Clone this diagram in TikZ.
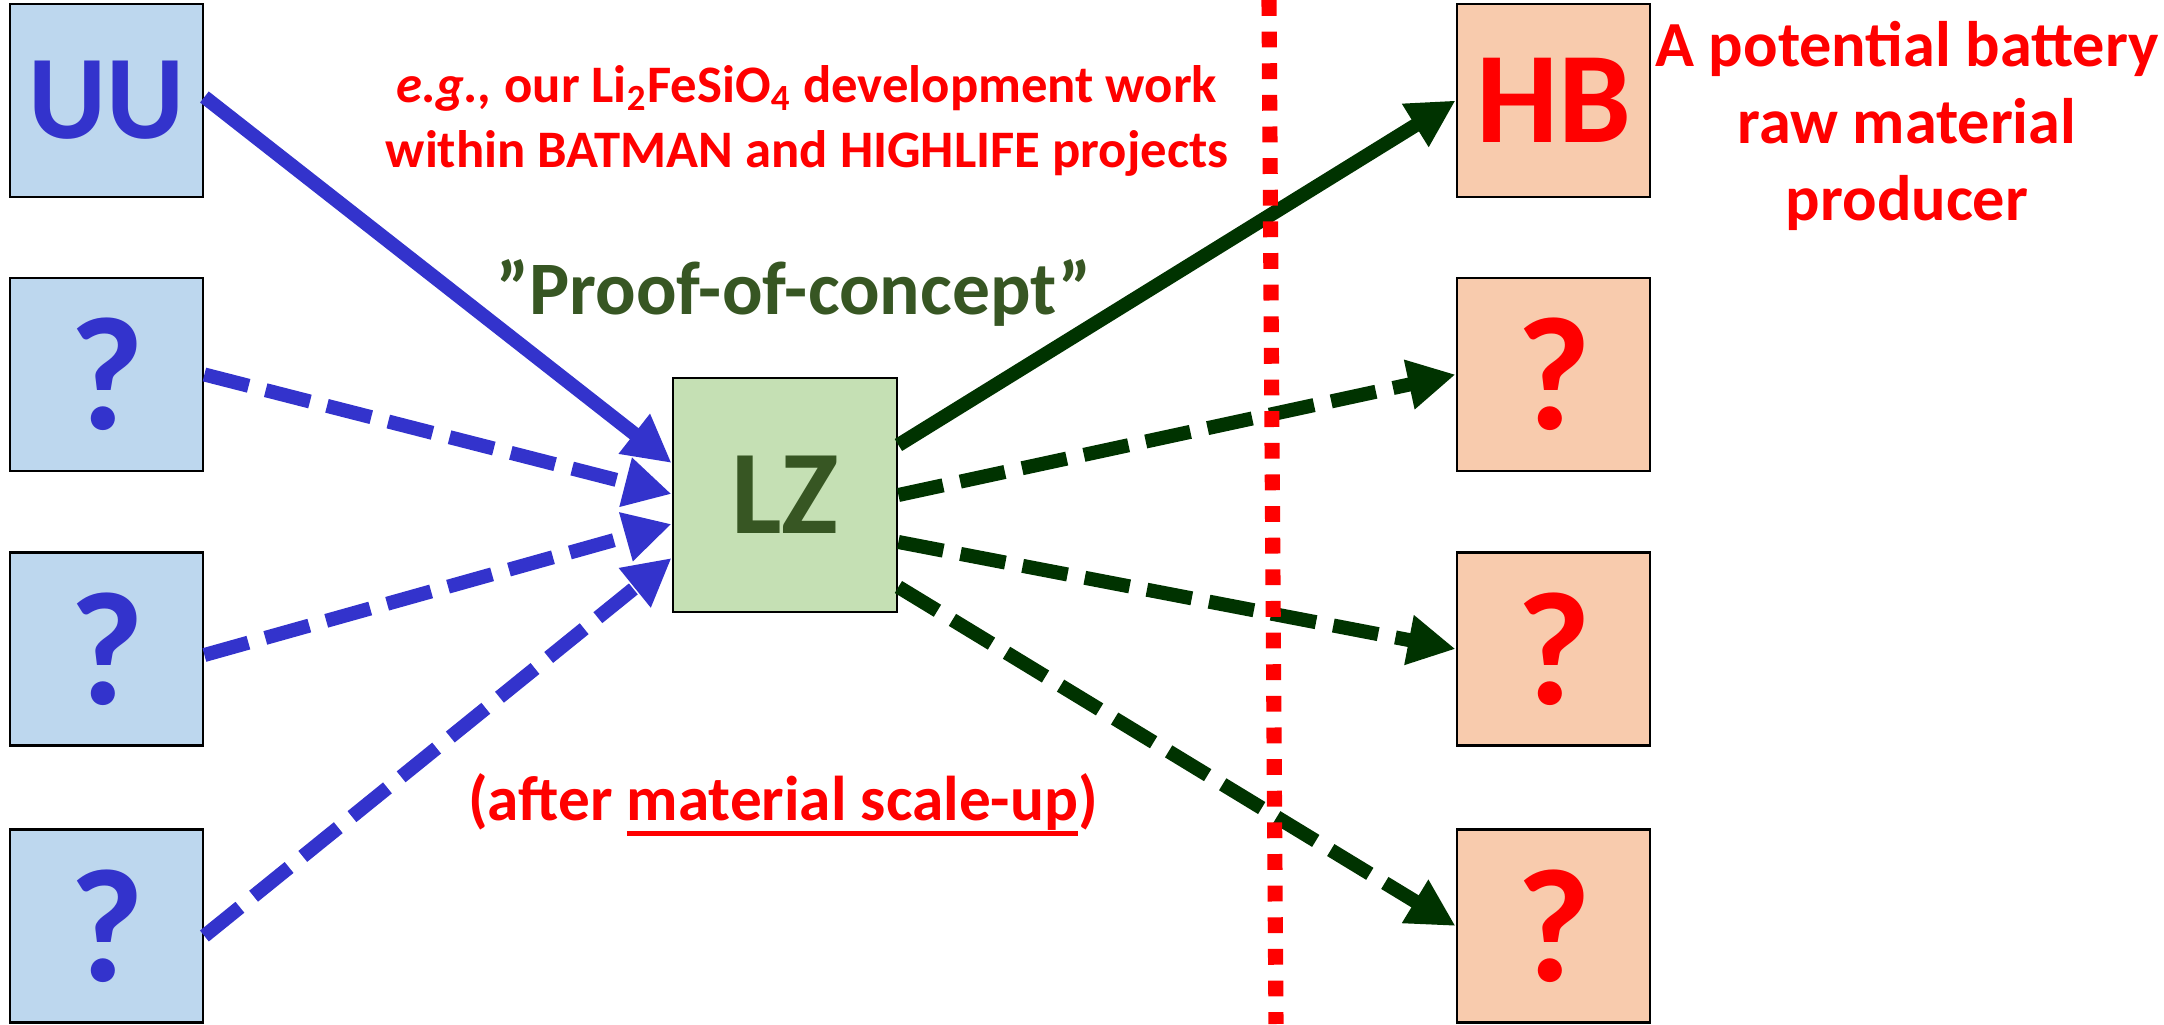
\documentclass[tikz,border=0pt]{standalone}
\usepackage{fontspec}
\setmainfont{Carlito}
\usetikzlibrary{
  positioning,
  arrows.meta
}
\definecolor{srcblue}{HTML}{BDD7EE}
\definecolor{lzgreen}{HTML}{C5E0B4}
\definecolor{dstorange}{HTML}{F8CBAD}
\definecolor{linkblue}{HTML}{3333CC}
\definecolor{linkgreen}{HTML}{003300}
\definecolor{olive}{HTML}{375623}
\definecolor{alert}{HTML}{FF0000}
\newcommand{\thickul}[1]{\setbox0=\hbox{#1}\rlap{\rule[-4.6pt]{\wd0}{1.4pt}}\box0}

\begin{document}
\begin{tikzpicture}[
  box/.style={draw, line width=0.8pt, minimum width=1.93cm, minimum height=1.93cm,
              inner sep=0pt},
  src/.style={box, fill=srcblue, text=linkblue},
  dst/.style={box, fill=dstorange, text=alert},
  big/.style={font=\bfseries\fontsize{34}{34}\selectfont},
  qmark/.style={font=\bfseries\fontsize{46}{46}\selectfont},
  barr/.style={-{Triangle[length=13.5pt, width=13.5pt]}, line width=4pt, linkblue},
  garr/.style={-{Triangle[length=13.5pt, width=13.5pt]}, line width=4pt, linkgreen},
  dashy/.style={dash pattern=on 13pt off 5pt},
  note/.style={align=center, inner sep=0pt, text=alert}
]
  \useasboundingbox (0,0) rectangle (21.64,10.24);

  \node[src, big] (uu) at (1.065, 9.235) {UU};
  \node[src, qmark] (s2) at (1.065, 6.495) {?};
  \node[src, qmark] (s3) at (1.065, 3.75) {?};
  \node[src, qmark] (s4) at (1.065, 0.98) {?};

  \node[box, big, fill=lzgreen, text=olive, minimum width=2.24cm, minimum height=2.34cm]
    (lz) at (7.85, 5.29) {LZ};

  \node[dst, font=\bfseries\fontsize{37}{37}\selectfont] (hb) at (15.535, 9.235) {HB};
  \node[dst, qmark] (d2) at (15.535, 6.495) {?};
  \node[dst, qmark] (d3) at (15.535, 3.75) {?};
  \node[dst, qmark] (d4) at (15.535, 0.98) {?};

  \node[note, font=\bfseries\fontsize{15}{18.5}\selectfont] (eg) at (8.07, 9.03) {
    \textit{e.g.,} our Li\textsubscript{2}FeSiO\textsubscript{4} development work\\
    within BATMAN and HIGHLIFE projects
  };
  \node[anchor=base, inner sep=0pt, text=olive, font=\bfseries\fontsize{21.5}{21.5}\selectfont]
    (poc) at (7.94, 7.09) {”Proof-of-concept”};
  \node[anchor=base, inner sep=0pt, text=alert, font=\bfseries\fontsize{18}{18}\selectfont]
    (scale) at (7.83, 2.04) {(after \thickul{material scale-up})};
  \node[note, font=\bfseries\fontsize{18.3}{21.8}\selectfont] (prod) at (19.07, 8.98) {
    A potential battery\\ raw material\\ producer
  };

  \draw[barr] ([yshift=0.035cm]uu.east) -- ([yshift=0.32cm]lz.west);
  \draw[barr, dashy] (s2.east) -- ([yshift=0.01cm]lz.west);
  \draw[barr, dashy] ([yshift=-0.06cm]s3.east) -- ([yshift=-0.29cm]lz.west);
  \draw[barr, dashy] ([yshift=-0.1cm]s4.east) -- ([yshift=-0.63cm]lz.west);

  \draw[garr] ([yshift=0.5cm]lz.east) -- (hb.west);
  \draw[garr, dashy] (lz.east) -- (d2.west);
  \draw[garr, dashy] ([yshift=-0.47cm]lz.east) -- (d3.west);
  \draw[garr, dashy] ([yshift=-0.92cm]lz.east) -- (d4.west);

  \draw[alert, line width=4.3pt, dash pattern=on 4.5pt off 4.5pt] (12.69, 10.24) -- (12.76, 0);
\end{tikzpicture}
\end{document}
